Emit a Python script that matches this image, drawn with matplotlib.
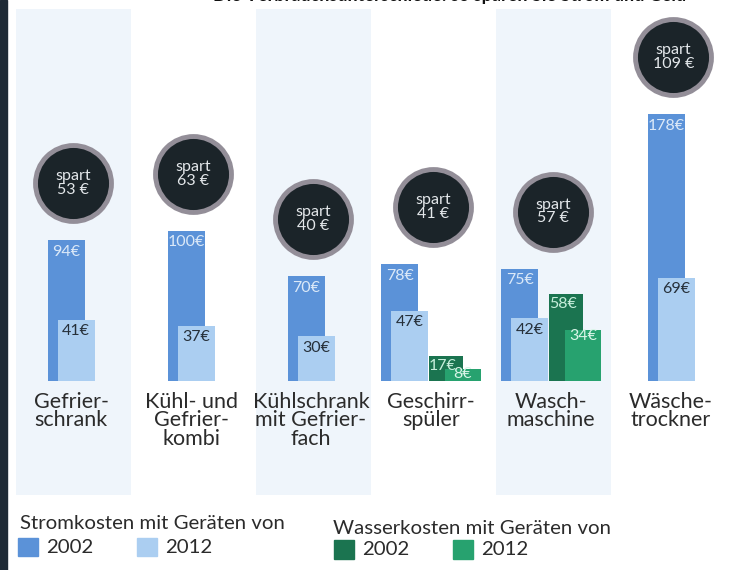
import matplotlib.pyplot as plt
import matplotlib.patches as mpatches
import numpy as np

# Daten (Kosten in Euro)
geraete = ['Gefrier-\nschrank', 'Kühl- und\nGefrier-\nkombi', 'Kühlschrank\nmit Gefrier-\nfach',
           'Geschirr-\nspüler', 'Wasch-\nmaschine', 'Wäsche-\ntrockner']
strom_2002 = [94, 100, 70, 78, 75, 178]
strom_2012 = [41, 37, 30, 47, 42, 69]
wasser_2002 = [None, None, None, 17, 58, None]
wasser_2012 = [None, None, None, 8, 34, None]
spart = [53, 63, 40, 41, 57, 109]

c_s02 = '#5b92d8'
c_s12 = '#abcef1'
c_w02 = '#1b7450'
c_w12 = '#27a26f'
c_kreis = '#1b2429'
c_ring = '#938e98'
c_text = '#2b2b2b'

plt.rcParams['font.family'] = ['Lato', 'DejaVu Sans']

fig = plt.figure(figsize=(7.42, 5.70), dpi=100)
ax = fig.add_axes([0, 0, 1, 1])
ax.set_xlim(-0.592, 5.592)
ax.set_ylim(-126, 254)
ax.axis('off')

x = np.arange(len(geraete))
b = 0.31     # Balkenbreite
d = 0.083    # Versatz 2012-Balken

# helle Hintergrundstreifen
for i in x[::2]:
    ax.axvspan(i - 0.46, i + 0.5, ymin=0.132, ymax=0.985, color='#eff5fb', zorder=0, lw=0)

for i in x:
    hat_wasser = wasser_2002[i] is not None
    if hat_wasser:
        s0 = i - 0.415
        w0 = i - 0.02
    else:
        s0 = i - 0.195
    ax.bar(s0, strom_2002[i], b, align='edge', color=c_s02, zorder=2)
    ax.bar(s0 + d, strom_2012[i], b, align='edge', color=c_s12, zorder=3)
    ax.text(s0 + b / 2, strom_2002[i] - 3, f'{strom_2002[i]}€', ha='center', va='top',
            fontsize=11.5, color='#dbe9f8', zorder=4)
    ax.text(s0 + d + b / 2, strom_2012[i] - 3, f'{strom_2012[i]}€', ha='center', va='top',
            fontsize=11.5, color='#26303a', zorder=4)
    top = strom_2002[i]
    if hat_wasser:
        ax.bar(w0, wasser_2002[i], 0.29, align='edge', color=c_w02, zorder=2)
        ax.bar(w0 + 0.135, wasser_2012[i], 0.30, align='edge', color=c_w12, zorder=3)
        ax.text(w0 + 0.12, wasser_2002[i] - 2, f'{wasser_2002[i]}€', ha='center', va='top',
                fontsize=11.5, color='#c6eedb', zorder=4)
        ax.text(w0 + 0.135 + 0.15, wasser_2012[i] + 1, f'{wasser_2012[i]}€', ha='center', va='top',
                fontsize=11.5, color='#d9f5e8', zorder=4)
        top = max(top, wasser_2002[i])
    # Kreis "spart"
    ax.scatter(i + 0.02, top + 38, s=2990, color=c_kreis, edgecolors=c_ring, linewidths=3.5, zorder=5)
    ax.text(i + 0.02, top + 38, f'spart\n{spart[i]} €', ha='center', va='center', fontsize=11.5,
            color='#e3e7ea', linespacing=1.0, zorder=6)
    # Beschriftung
    ax.text(i, -7, geraete[i], ha='center', va='top', fontsize=15.5, color=c_text,
            linespacing=0.92, zorder=4)

# abgeschnittener Titel oben
fig.text(0.925, 0.993, 'Die Verbrauchsunterschiede: so sparen Sie Strom und Geld', ha='right', va='bottom',
         fontsize=13, fontweight='bold', color='#111111')

# Legende
fig.text(0.027, 0.082, 'Stromkosten mit Geräten von', fontsize=14.7, color=c_text, ha='left', va='center')
fig.text(0.449, 0.073, 'Wasserkosten mit Geräten von', fontsize=14.7, color=c_text, ha='left', va='center')
leg = [(0.024, c_s02, '2002', 0.038), (0.185, c_s12, '2012', 0.038),
       (0.450, c_w02, '2002', 0.034), (0.610, c_w12, '2012', 0.034)]
for lx, col, txt, ly in leg:
    fig.patches.append(mpatches.Rectangle((lx, ly - 0.014), 0.027, 0.032, transform=fig.transFigure,
                                          color=col, figure=fig))
    fig.text(lx + 0.038, ly + 0.002, txt, fontsize=14.7, color=c_text, ha='left', va='center')

# dunkler Rand links
fig.patches.append(mpatches.Rectangle((0, 0), 0.009, 1, transform=fig.transFigure,
                                      color='#1e2a35', figure=fig))

fig.savefig('out.png', dpi=100)
